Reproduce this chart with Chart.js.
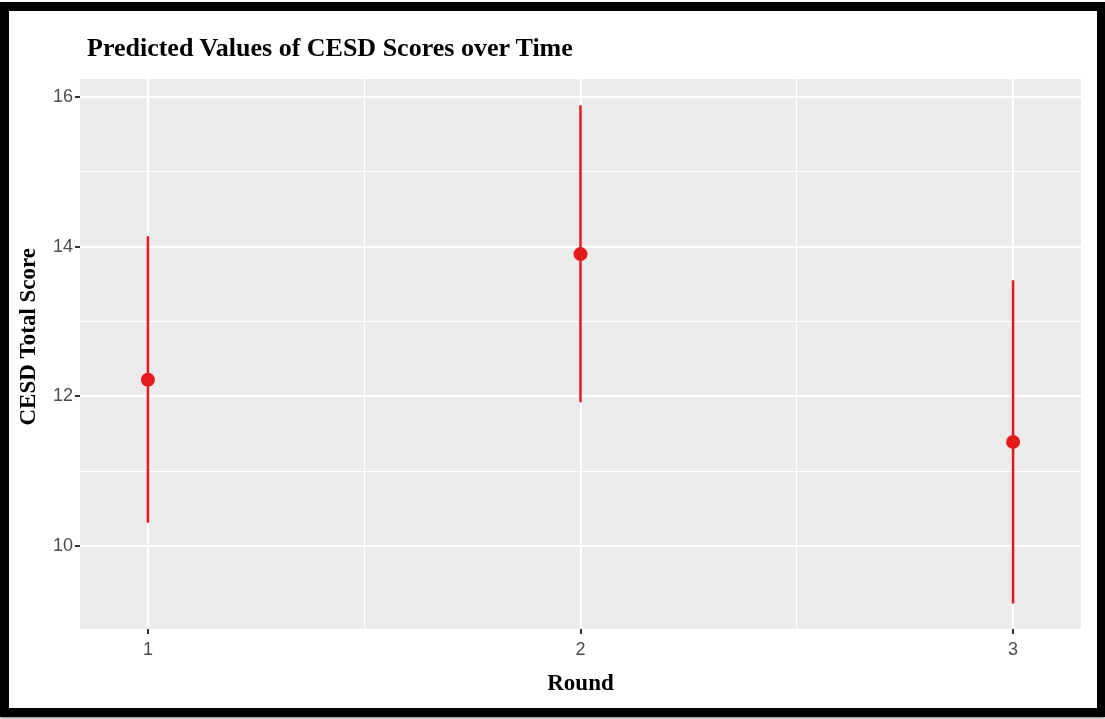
<!DOCTYPE html>
<html>
<head>
<meta charset="utf-8">
<script src="https://cdn.jsdelivr.net/npm/chart.js@4.4.1/dist/chart.umd.min.js"></script>
<style>
  body { margin: 0; background: #fff; }
  #wrap { position: relative; width: 1105px; height: 719px; overflow: hidden; }
  #myChart { position: absolute; left: 0; top: 0; }
  #frame { position: absolute; left: 0; top: 2px; width: 1105px; height: 715px; box-sizing: border-box;
           border: 9px solid #000; border-right-width: 8px; box-shadow: 0 2px 3px #999; pointer-events: none; }
  #titulo { position: absolute; left: 87px; top: 35px; font: bold 26px "Liberation Serif", "Times New Roman", serif;
            line-height: 26px; color: #000; white-space: nowrap; }
</style>
</head>
<body>
<div id="wrap">
  <canvas id="myChart" width="1105" height="719"></canvas>
  <div id="titulo">Predicted Values of CESD Scores over Time</div>
  <div id="frame"></div>
</div>
<script>
// valores
const rounds = [1, 2, 3];
const predicted = [12.22, 13.90, 11.39];
const lowerCI = [10.31, 11.92, 9.23];
const upperCI = [14.14, 15.89, 13.55];
const xTicks = [1, 1.5, 2, 2.5, 3];
const yTicks = [10, 11, 12, 13, 14, 15, 16];

const rojo = '#E41A1C';
const serif = '"Liberation Serif", "Times New Roman", serif';
const sans = '"Liberation Sans", Arial, sans-serif';

// puntos y barras de error
const puntos = rounds.map((r, i) => ({ x: r, y: predicted[i] }));
const barras = [];
rounds.forEach((r, i) => {
  barras.push({ x: r, y: lowerCI[i] });
  barras.push({ x: r, y: upperCI[i] });
  barras.push({ x: r, y: null });
});

const fondoPanel = {
  id: 'fondoPanel',
  beforeDraw(chart) {
    const a = chart.chartArea;
    const ctx = chart.ctx;
    ctx.save();
    ctx.fillStyle = '#EBEBEB';
    ctx.fillRect(a.left, a.top, a.right - a.left, a.bottom - a.top);
    ctx.restore();
  }
};

const esMayor = v => Number.isInteger(v);

const ctx = document.getElementById('myChart').getContext('2d');
const myChart = new Chart(ctx, {
  type: 'scatter',
  data: {
    datasets: [
      {
        label: 'predicted',
        data: puntos,
        backgroundColor: rojo,
        borderColor: rojo,
        pointRadius: 7,
        pointHoverRadius: 7,
        borderWidth: 0
      },
      {
        label: 'ci',
        type: 'line',
        data: barras,
        borderColor: rojo,
        borderWidth: 2.5,
        pointRadius: 0,
        spanGaps: false,
        fill: false
      }
    ]
  },
  options: {
    responsive: false,
    animation: false,
    devicePixelRatio: 1,
    layout: { padding: { left: 12, right: 24, top: 79, bottom: 12 } },
    plugins: {
      legend: { display: false },
      tooltip: { enabled: false },
      title: { display: false }
    },
    scales: {
      x: {
        type: 'linear',
        min: 0.843,
        max: 3.157,
        afterBuildTicks: s => { s.ticks = xTicks.map(v => ({ value: v })); },
        afterFit: s => { s.height = 78; },
        border: { display: false },
        grid: {
          color: '#FFFFFF',
          lineWidth: c => esMayor(c.tick.value) ? 2 : 1,
          tickColor: c => esMayor(c.tick.value) ? '#333333' : 'rgba(0,0,0,0)',
          tickWidth: 2,
          tickLength: 5
        },
        ticks: {
          autoSkip: false,
          maxRotation: 0,
          padding: 5,
          color: '#4D4D4D',
          font: { family: sans, size: 18 },
          callback: v => esMayor(v) ? String(v) : ''
        },
        title: {
          display: true,
          text: 'Round',
          color: '#000',
          font: { family: serif, size: 23, weight: 'bold' },
          padding: { top: 0, bottom: 9 }
        }
      },
      y: {
        type: 'linear',
        min: 8.89,
        max: 16.24,
        afterBuildTicks: s => { s.ticks = yTicks.map(v => ({ value: v })); },
        afterFit: s => { s.width = 68; },
        border: { display: false },
        grid: {
          color: '#FFFFFF',
          lineWidth: c => esMayor(c.tick.value / 2) ? 2 : 1,
          tickColor: c => esMayor(c.tick.value / 2) ? '#333333' : 'rgba(0,0,0,0)',
          tickWidth: 2,
          tickLength: 5
        },
        ticks: {
          autoSkip: false,
          padding: 2,
          color: '#4D4D4D',
          font: { family: sans, size: 18 },
          callback: v => esMayor(v / 2) ? String(v) : ''
        },
        title: {
          display: true,
          text: '      CESD Total Score',
          color: '#000',
          font: { family: serif, size: 23, weight: 'bold' },
          padding: { top: 3, bottom: 0 }
        }
      }
    }
  },
  plugins: [fondoPanel]
});
</script>
</body>
</html>
